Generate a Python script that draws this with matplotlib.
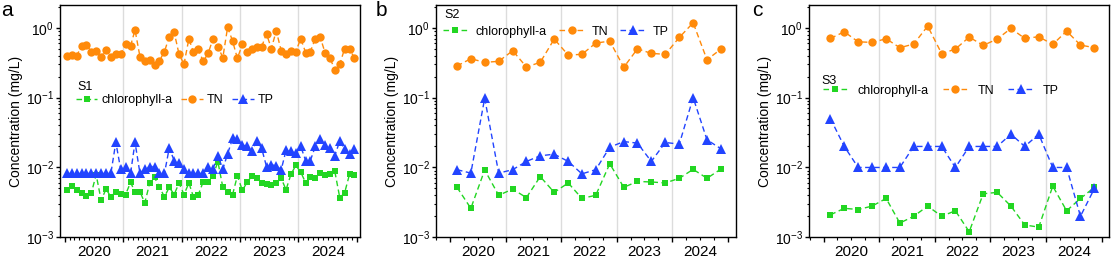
import matplotlib.pyplot as plt
import matplotlib.dates as mdates
import matplotlib.transforms as mtransforms
import pandas as pd
from datetime import datetime

plt.rcParams['font.family'] = ['Liberation Sans', 'DejaVu Sans']
plt.rcParams['mathtext.fontset'] = 'custom'
plt.rcParams['mathtext.rm'] = 'Liberation Sans'
plt.rcParams['axes.linewidth'] = 1.0

# sampling dates (monthly for S1, quarterly for S2 / S3)
monthly = pd.date_range('2020-01-01', periods=60, freq='MS') + pd.Timedelta(days=14)
quarterly = pd.date_range('2020-01-01', periods=20, freq='QS') + pd.Timedelta(days=45)
years = [2020, 2021, 2022, 2023, 2024]
year_labels = ['2020', '2021', '2022', '2023', '2024']

# S1 (monthly), mg/L
s1_chl = [0.0048, 0.0055, 0.0047, 0.0043, 0.0039, 0.0043, 0.0079, 0.0034, 0.0049, 0.0038, 0.0045, 0.0042,
          0.0041, 0.0061, 0.0045, 0.0045, 0.0031, 0.0060, 0.0072, 0.0052, 0.0038, 0.0052, 0.0041, 0.0060,
          0.0041, 0.0060, 0.0038, 0.0041, 0.0062, 0.0061, 0.0075, 0.0121, 0.0052, 0.0045, 0.0041, 0.0076,
          0.0047, 0.0062, 0.0075, 0.0070, 0.0060, 0.0058, 0.0057, 0.0060, 0.0070, 0.0048, 0.0080, 0.0107,
          0.0086, 0.0060, 0.0073, 0.0070, 0.0083, 0.0079, 0.0081, 0.0088, 0.0037, 0.0043, 0.0080, 0.0077]
s1_tn = [0.39, 0.41, 0.40, 0.54, 0.57, 0.455, 0.47, 0.385, 0.48, 0.385, 0.42, 0.42,
         0.59, 0.55, 0.93, 0.385, 0.34, 0.35, 0.29, 0.34, 0.455, 0.75, 0.86, 0.42,
         0.30, 0.70, 0.445, 0.49, 0.33, 0.43, 0.69, 0.535, 0.375, 1.02, 0.645, 0.365,
         0.58, 0.455, 0.49, 0.53, 0.53, 0.82, 0.505, 0.90, 0.47, 0.42, 0.47, 0.455,
         0.70, 0.44, 0.455, 0.70, 0.745, 0.44, 0.375, 0.25, 0.30, 0.50, 0.49, 0.375]
s1_tp = [0.0082, 0.0082, 0.0082, 0.0082, 0.0082, 0.0082, 0.0082, 0.0082, 0.0082, 0.0082, 0.023, 0.0095,
         0.0103, 0.0082, 0.023, 0.0082, 0.0095, 0.0103, 0.0103, 0.0082, 0.0082, 0.019, 0.0125, 0.0114,
         0.0095, 0.0082, 0.0082, 0.0082, 0.0082, 0.0103, 0.0095, 0.0147, 0.0095, 0.0157, 0.026, 0.0255,
         0.021, 0.020, 0.017, 0.024, 0.019, 0.0103, 0.011, 0.0105, 0.0093, 0.0175, 0.017, 0.016,
         0.020, 0.0125, 0.0125, 0.020, 0.0256, 0.021, 0.0193, 0.0147, 0.024, 0.0185, 0.0157, 0.0185]

# S2 (quarterly)
s2_chl = [0.0052, 0.0026, 0.0092, 0.0040, 0.0049, 0.0037, 0.0074, 0.0044, 0.0060, 0.0036,
          0.0040, 0.0113, 0.0052, 0.0063, 0.0062, 0.0060, 0.0070, 0.0094, 0.0070, 0.0095]
s2_tn = [0.284, 0.361, 0.32, 0.331, 0.47, 0.275, 0.32, 0.69, 0.407, 0.417,
         0.604, 0.645, 0.272, 0.50, 0.43, 0.417, 0.728, 1.18, 0.349, 0.496]
s2_tp = [0.0093, 0.0083, 0.098, 0.0083, 0.0093, 0.0122, 0.0147, 0.0155, 0.0122, 0.0081,
         0.0093, 0.0195, 0.0235, 0.0223, 0.0122, 0.0228, 0.0216, 0.10, 0.0249, 0.0185]

# S3 (quarterly)
s3_chl = [0.0021, 0.0026, 0.0025, 0.0028, 0.0036, 0.0016, 0.0020, 0.0028, 0.0020, 0.0024,
          0.0012, 0.0042, 0.0044, 0.0028, 0.0015, 0.0014, 0.0054, 0.0024, 0.0036, 0.0052]
s3_tn = [0.705, 0.877, 0.63, 0.618, 0.697, 0.519, 0.585, 1.057, 0.426, 0.496,
         0.736, 0.56, 0.69, 0.98, 0.705, 0.745, 0.578, 0.897, 0.566, 0.519]
s3_tp = [0.05, 0.02, 0.01, 0.01, 0.01, 0.01, 0.02, 0.02, 0.02, 0.01,
         0.02, 0.02, 0.02, 0.03, 0.02, 0.03, 0.01, 0.01, 0.002, 0.005]

c_chl = '#22d622'
c_tn = '#ff8a0a'
c_tp = '#2244ff'

fig = plt.figure(figsize=(11.12, 2.6), dpi=100)
W, H = 1112, 260
def ax_at(left):
    return fig.add_axes([left / W, (H - 237.3) / H, 299.6 / W, 232.0 / H])

panels = [
    dict(left=60, letter='a', site='S1', x=monthly, chl=s1_chl, tn=s1_tn, tp=s1_tp,
         xlim=(datetime(2019, 12, 2), datetime(2025, 1, 17)), minor=mdates.MonthLocator(),
         leg=(0.053, 0.592), site_xy=(0.057, 0.649), hl=1.7, htp=0.35, cs=0.7, letter_x=7),
    dict(left=436, letter='b', site='S2', x=quarterly, chl=s2_chl, tn=s2_tn, tp=s2_tp,
         xlim=(datetime(2019, 9, 30), datetime(2025, 2, 19)), minor=mdates.MonthLocator(bymonth=[1, 4, 7, 10]),
         leg=(0.022, 0.886), site_xy=(0.027, 0.958), hl=2.05, htp=0.55, cs=1.0, letter_x=381),
    dict(left=809.3, letter='c', site='S3', x=quarterly, chl=s3_chl, tn=s3_tn, tp=s3_tp,
         xlim=(datetime(2019, 9, 29), datetime(2025, 2, 18)), minor=mdates.MonthLocator(bymonth=[1, 4, 7, 10]),
         leg=(0.045, 0.632), site_xy=(0.042, 0.674), hl=2.0, htp=0.8, cs=1.1, letter_x=757),
]

for p in panels:
    ax = ax_at(p['left'])
    kw = dict(ls=(0, (4, 2.5)), lw=1.0)
    ax.plot(p['x'], p['chl'], color=c_chl, marker='s', ms=5, mew=0, label='chlorophyll-a', **kw)
    ax.plot(p['x'], p['tn'], color=c_tn, marker='o', ms=6, mew=0, label='TN', **kw)
    ax.plot(p['x'], p['tp'], color=c_tp, marker='^', ms=6.5, mew=0, label='TP', **kw)

    ax.set_yscale('log')
    ax.set_ylim(1e-3, 2.1)
    ax.set_xlim(*p['xlim'])
    for y in years[1:]:
        ax.axvline(datetime(y, 1, 1), color='#dcdcdc', lw=1, zorder=0)

    ax.xaxis.set_major_locator(mdates.YearLocator())
    ax.xaxis.set_minor_locator(p['minor'])
    ax.xaxis.set_major_formatter(plt.NullFormatter())
    ax.tick_params(axis='x', which='major', length=3.5, width=1, direction='out')
    ax.tick_params(axis='x', which='minor', length=2, width=0.8, direction='out')
    ax.tick_params(axis='y', which='major', length=3, width=1, pad=1.5, labelsize=10)
    ax.tick_params(axis='y', which='minor', length=1.8, width=0.8)
    trans = mtransforms.blended_transform_factory(ax.transData, ax.transAxes)
    for y, lab in zip(years, year_labels):
        ax.text(datetime(y, 7, 2), -0.062, lab, transform=trans, ha='center', va='center', fontsize=11)

    ax.set_ylabel('Concentration (mg/L)', fontsize=10, labelpad=2)
    ax.text(p['site_xy'][0], p['site_xy'][1], p['site'], transform=ax.transAxes,
            ha='left', va='center', fontsize=9)
    ax.legend(loc='center left', bbox_to_anchor=p['leg'], ncol=3, frameon=False, fontsize=9,
              borderpad=0, borderaxespad=0, handlelength=p['hl'], handletextpad=p['htp'],
              columnspacing=p['cs'], markerscale=1.0)
    fig.text(p['letter_x'] / W, 1 - 11 / H, p['letter'], ha='center', va='center', fontsize=15)

fig.savefig('out.png', dpi=100)
